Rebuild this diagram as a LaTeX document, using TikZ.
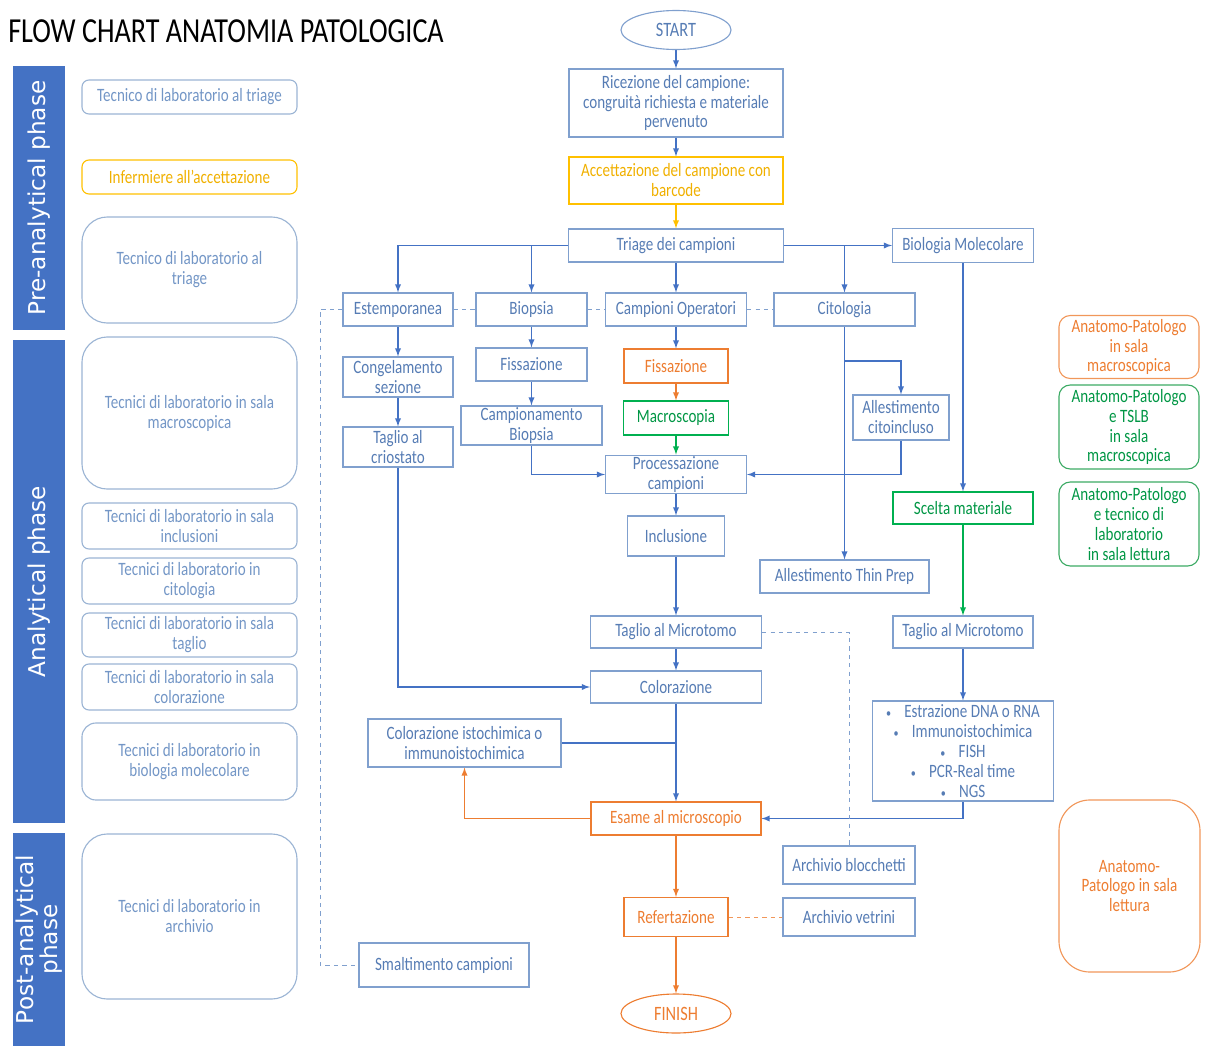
\documentclass[tikz,border=0pt]{standalone}
\usepackage{fontspec}
\setmainfont[FakeStretch=0.8]{Carlito}
\newfontfamily\phasefont{DejaVu Sans}
\usepackage{xcolor}
\usepackage{tikz}
\usetikzlibrary{arrows}
\usetikzlibrary{backgrounds,positioning,calc}
\usetikzlibrary{shapes,shapes.geometric}
\pgfdeclarelayer{edgelayer}
\pgfdeclarelayer{nodelayer}
\pgfsetlayers{background,edgelayer,nodelayer,main}
\definecolor{linkblue}{RGB}{68,114,196}
\definecolor{boxblue}{RGB}{128,160,206}
\definecolor{txtblue}{RGB}{86,124,180}
\definecolor{roleblue}{RGB}{155,180,212}
\definecolor{roletxt}{RGB}{115,150,198}
\definecolor{ora}{RGB}{237,125,49}
\definecolor{grn}{RGB}{0,176,80}
\definecolor{rolegrn}{RGB}{60,170,100}
\definecolor{yel}{RGB}{255,192,0}
\definecolor{yeltxt}{RGB}{240,176,0}
\newcommand{\flowsize}{\fontsize{13.4}{14.2}\selectfont}
\newcommand{\titlesize}{\fontsize{25}{28}\selectfont}
\tikzstyle{none}=[inner sep=0mm]
\tikzstyle{blue box}=[rectangle,draw=boxblue,text=txtblue,line width=0.8pt,align=center,inner sep=1pt,font=\flowsize]
\tikzstyle{orange box}=[blue box,draw=ora,text=ora]
\tikzstyle{green box}=[blue box,draw=grn,text=grn!85!black]
\tikzstyle{yellow box}=[blue box,draw=yel,text=yeltxt]
\tikzstyle{terminal}=[blue box,ellipse,minimum width=2.75cm,minimum height=0.975cm,font=\fontsize{14.5}{16}\selectfont]
\tikzstyle{role}=[blue box,rounded corners=5pt,draw=roleblue,text=roletxt,minimum width=5.375cm]
\tikzstyle{big role}=[role,rounded corners=18pt]
\tikzstyle{ap orange}=[role,draw=ora!80,text=ora,minimum width=3.5cm,rounded corners=8pt]
\tikzstyle{ap green}=[role,draw=rolegrn,text=grn!85!black,minimum width=3.5cm,rounded corners=8pt]
\tikzstyle{phase}=[rectangle,fill=linkblue,text=white,rotate=90,align=center,inner sep=0pt,minimum height=1.3cm,font=\phasefont\fontsize{16.5}{17}\selectfont]
\tikzstyle{blue arrow}=[-latex,color=linkblue,line width=1pt]
\tikzstyle{blue line}=[color=linkblue,line width=1pt]
\tikzstyle{orange arrow}=[-latex,color=ora,line width=1pt]
\tikzstyle{green arrow}=[-latex,color=grn,line width=1pt]
\tikzstyle{yellow arrow}=[-latex,color=yel,line width=1pt]
\tikzstyle{dash link}=[dashed,color=boxblue,line width=0.7pt]
\tikzstyle{orange dash}=[dashed,color=ora!80,line width=0.7pt]

\begin{document}
\begin{tikzpicture}[x=0.025cm,y=-0.025cm]
	\useasboundingbox (0,0) rectangle (1205,1046);
	\begin{pgfonlayer}{nodelayer}
		% title and phases
		\node [style=none,anchor=west,font=\titlesize] (title) at (8, 31) {FLOW CHART ANATOMIA PATOLOGICA};
		\node [style=phase,minimum width=6.6cm] (prephase) at (39, 198) {Pre-analytical phase};
		\node [style=phase,minimum width=12.075cm] (anphase) at (39, 581.5) {Analytical phase};
		\node [style=phase,minimum width=5.325cm] (postphase) at (39, 939.5) {Post-analytical\\phase};
		% roles on the left
		\node [style=role,minimum height=0.85cm] (r1) at (189.5, 97) {Tecnico di laboratorio al triage};
		\node [style=role,draw=yel,text=yeltxt,minimum height=0.85cm] (r2) at (189.5, 177) {Infermiere all’accettazione};
		\node [style={big role},minimum height=2.65cm] (r3) at (189.5, 270) {Tecnico di laboratorio al\\triage};
		\node [style={big role},minimum height=3.8cm] (r4) at (189.5, 413) {Tecnici di laboratorio in sala\\macroscopica};
		\node [style=role,minimum height=1.15cm] (r5) at (189.5, 526) {Tecnici di laboratorio in sala\\inclusioni};
		\node [style=role,minimum height=1.15cm] (r6) at (189.5, 581) {Tecnici di laboratorio in\\citologia};
		\node [style=role,minimum height=1.1cm] (r7) at (189.5, 635) {Tecnici di laboratorio in sala\\taglio};
		\node [style=role,minimum height=1.15cm] (r8) at (189.5, 687) {Tecnici di laboratorio in sala\\colorazione};
		\node [style=role,rounded corners=10pt,minimum height=1.925cm] (r9) at (189.5, 761.5) {Tecnici di laboratorio in\\biologia molecolare};
		\node [style={big role},minimum height=4.125cm] (r10) at (189.5, 916.5) {Tecnici di laboratorio in\\archivio};
		% roles on the right
		\node [style={ap orange},minimum height=1.575cm] (apmacro) at (1129, 347) {Anatomo-Patologo\\in sala\\macroscopica};
		\node [style={ap green},minimum height=2.1cm] (aptslb) at (1129, 427) {Anatomo-Patologo\\e TSLB\\in sala\\macroscopica};
		\node [style={ap green},minimum height=2.1cm] (aptec) at (1129, 524) {Anatomo-Patologo\\e tecnico di\\laboratorio\\in sala lettura};
		\node [style={ap orange},rounded corners=22pt,minimum width=3.525cm,minimum height=4.3cm] (aplett) at (1129.5, 886) {Anatomo-\\Patologo in sala\\lettura};
		% main flow
		\node [style=terminal] (start) at (676, 30) {START};
		\node [style={blue box},minimum width=5.35cm,minimum height=1.7cm] (ricez) at (676, 103) {Ricezione del campione:\\congruità richiesta e materiale\\pervenuto};
		\node [style={yellow box},minimum width=5.35cm,minimum height=1.175cm] (accett) at (676, 180.5) {Accettazione del campione con\\barcode};
		\node [style={blue box},minimum width=5.375cm,minimum height=0.825cm] (triage) at (676, 245.5) {Triage dei campioni};
		\node [style={blue box},minimum width=3.525cm,minimum height=0.85cm] (biomol) at (963, 245.5) {Biologia Molecolare};
		\node [style={blue box},minimum width=2.75cm,minimum height=0.825cm] (estemp) at (398, 309.5) {Estemporanea};
		\node [style={blue box},minimum width=2.775cm,minimum height=0.825cm] (biopsia) at (531.5, 309.5) {Biopsia};
		\node [style={blue box},minimum width=3.525cm,minimum height=0.825cm] (campop) at (676, 309.5) {Campioni Operatori};
		\node [style={blue box},minimum width=3.525cm,minimum height=0.825cm] (citol) at (844.5, 309.5) {Citologia};
		\node [style={blue box},minimum width=2.75cm,minimum height=1cm] (congel) at (398, 377) {Congelamento\\sezione};
		\node [style={blue box},minimum width=2.75cm,minimum height=1cm] (criost) at (398, 447) {Taglio al\\criostato};
		\node [style={blue box},minimum width=2.775cm,minimum height=0.825cm] (fissb) at (531.5, 364.5) {Fissazione};
		\node [style={blue box},minimum width=3.525cm,minimum height=0.975cm] (campbio) at (531.5, 425.5) {Campionamento\\Biopsia};
		\node [style={orange box},minimum width=2.6cm,minimum height=0.85cm] (fisso) at (676, 366) {Fissazione};
		\node [style={green box},minimum width=2.625cm,minimum height=0.85cm] (macro) at (676, 418) {Macroscopia};
		\node [style={blue box},minimum width=3.525cm,minimum height=0.925cm] (process) at (676, 474.5) {Processazione\\campioni};
		\node [style={blue box},minimum width=2.425cm,minimum height=1cm] (inclus) at (676, 536) {Inclusione};
		\node [style={blue box},minimum width=2.4cm,minimum height=1.125cm] (citoinc) at (901, 417.5) {Allestimento\\citoincluso};
		\node [style={blue box},minimum width=4.225cm,minimum height=0.825cm] (thinprep) at (844.5, 576.5) {Allestimento Thin Prep};
		\node [style={green box},minimum width=3.5cm,minimum height=0.8cm] (scelta) at (963, 508) {Scelta materiale};
		\node [style={blue box},minimum width=4.275cm,minimum height=0.8cm] (taglio1) at (676, 632) {Taglio al Microtomo};
		\node [style={blue box},minimum width=3.5cm,minimum height=0.8cm] (taglio2) at (963, 632) {Taglio al Microtomo};
		\node [style={blue box},minimum width=4.275cm,minimum height=0.8cm] (coloraz) at (676, 687) {Colorazione};
		\node [style={blue box},minimum width=4.825cm,minimum height=1.2cm] (isto) at (464.5, 743) {Colorazione istochimica o\\immunoistochimica};
		\node [style={blue box},minimum width=4.525cm,minimum height=2.5cm] (estraz) at (963, 751) {{\small\textbullet}\hspace{0.7em}Estrazione DNA o RNA\\{\small\textbullet}\hspace{0.7em}Immunoistochimica\\{\small\textbullet}\hspace{0.7em}FISH\\{\small\textbullet}\hspace{0.7em}PCR-Real time\\{\small\textbullet}\hspace{0.7em}NGS};
		\node [style={orange box},minimum width=4.25cm,minimum height=0.825cm] (esame) at (676, 818.5) {Esame al microscopio};
		\node [style={blue box},minimum width=3.3cm,minimum height=0.95cm] (blocch) at (849, 865) {Archivio blocchetti};
		\node [style={blue box},minimum width=3.3cm,minimum height=0.95cm] (vetrini) at (849, 917) {Archivio vetrini};
		\node [style={orange box},minimum width=2.6cm,minimum height=0.975cm] (referta) at (676, 917) {Refertazione};
		\node [style=terminal,draw=ora,text=ora] (finish) at (676, 1013.5) {FINISH};
		\node [style={blue box},minimum width=4.25cm,minimum height=1.1cm] (smalt) at (444, 965) {Smaltimento campioni};
		\coordinate (citosplit) at (844.5, 361);
		\coordinate (istojoin) at (676, 743);
		\coordinate (bin) at (320, 309.5);
	\end{pgfonlayer}
	\begin{pgfonlayer}{edgelayer}
		\draw [style={blue arrow}] (start) to (ricez);
		\draw [style={blue arrow}] (ricez) to (accett);
		\draw [style={yellow arrow}] (accett) to (triage);
		\draw [style={blue arrow}] (triage.west) -| (estemp.north);
		\draw [style={blue arrow}] (triage.west) -| (biopsia.north);
		\draw [style={blue arrow}] (triage) to (campop);
		\draw [style={blue arrow}] (triage) to (biomol);
		\draw [style={blue arrow}] (triage.east) -| (citol.north);
		\draw [style={blue arrow}] (estemp) to (congel);
		\draw [style={blue arrow}] (congel) to (criost);
		\draw [style={blue arrow}] (criost.south) |- (coloraz.west);
		\draw [style={blue arrow}] (biopsia) to (fissb);
		\draw [style={blue arrow}] (fissb) to (campbio);
		\draw [style={blue arrow}] (campbio.south) |- (process.west);
		\draw [style={blue arrow}] (campop) to (fisso);
		\draw [style={orange arrow}] (fisso) to (macro);
		\draw [style={green arrow}] (macro) to (process);
		\draw [style={blue arrow}] (process) to (inclus);
		\draw [style={blue arrow}] (inclus) to (taglio1);
		\draw [style={blue arrow}] (taglio1) to (coloraz);
		\draw [style={blue arrow}] (coloraz) to (esame);
		\draw [style={blue line}] (isto) to (istojoin);
		\draw [style={orange arrow}] (esame.west) -| (isto.south);
		\draw [style={orange arrow}] (esame) to (referta);
		\draw [style={orange arrow}] (referta) to (finish);
		\draw [style={blue arrow}] (citol) to (thinprep);
		\draw [style={blue arrow}] (citosplit) -| (citoinc.north);
		\draw [style={blue arrow}] (citoinc.south) |- (process.east);
		\draw [style={blue arrow}] (biomol) to (scelta);
		\draw [style={green arrow}] (scelta) to (taglio2);
		\draw [style={blue arrow}] (taglio2) to (estraz);
		\draw [style={blue arrow}] (estraz.south) |- (esame.east);
		\draw [style={dash link}] (estemp) to (biopsia);
		\draw [style={dash link}] (biopsia) to (campop);
		\draw [style={dash link}] (campop) to (citol);
		\draw [style={dash link}] (estemp.west) -- (bin) |- (smalt.west);
		\draw [style={dash link}] (taglio1.east) -| (blocch.north);
		\draw [style={orange dash}] (referta) to (vetrini);
	\end{pgfonlayer}
\end{tikzpicture}
\end{document}
